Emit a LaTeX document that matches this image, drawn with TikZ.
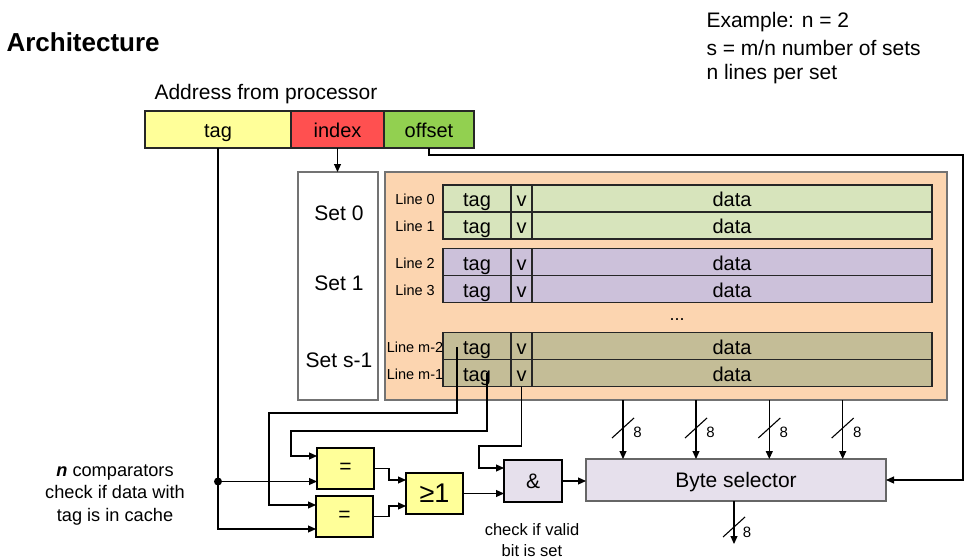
\documentclass[tikz,border=0pt]{standalone}
\usepackage{fontspec}
\setmainfont{Liberation Sans}
\usetikzlibrary{calc,arrows.meta}
\definecolor{ylw}{HTML}{FFFF99}
\definecolor{idxred}{HTML}{FF5050}
\definecolor{offgrn}{HTML}{92D050}
\definecolor{orng}{HTML}{FCD5B0}
\definecolor{grn}{HTML}{D7E4BC}
\definecolor{pur}{HTML}{CCC1DA}
\definecolor{kha}{HTML}{C4BD97}
\definecolor{lav}{HTML}{E6E0EC}
\newcommand\fsz[2]{\fontsize{#1}{#2}\selectfont}
\begin{document}
\begin{tikzpicture}[x=1pt,y=-1pt,
  >={Triangle[length=8pt,width=7pt]},
  box/.style={draw=black!85, line width=1.1pt, inner sep=0pt, outer sep=0pt, anchor=north west},
  cell/.style={box, font=\fsz{20}{24}, text height=16pt, text depth=0pt},
  gate/.style={draw=black, line width=1.8pt, inner sep=0pt, outer sep=0pt, anchor=north west, minimum width=57pt, minimum height=41pt},
  conn/.style={line width=1.1pt, black},
  lbl/.style={font=\fsz{14.5}{17}},
  eight/.style={font=\fsz{15}{18}}]
\useasboundingbox (0,0) rectangle (971,559);

% titles
\node[anchor=west, font=\fsz{26}{30}\bfseries] (title) at (3,42) {Architecture};
\node[anchor=west, font=\fsz{21}{25}] (addrlbl) at (151,94) {Address from processor};
\node[anchor=west, font=\fsz{21}{25}] (ex1) at (703,22) {Example: n = 2};
\node[anchor=west, font=\fsz{21}{25}] (ex2) at (703,48) {s = m/n number of sets};
\node[anchor=west, font=\fsz{21}{25}] (ex3) at (703,74) {n lines per set};

% address
\node[cell, text height=17pt, fill=ylw, minimum width=146pt, minimum height=37pt] (addrTag) at (145,111) {tag};
\node[cell, text height=17pt, fill=idxred, minimum width=93pt, minimum height=37pt] (addrIdx) at (291,111) {index};
\node[cell, text height=17pt, fill=offgrn, minimum width=90pt, minimum height=37pt] (addrOff) at (384,111) {offset};

% set box and cache
\node[box, draw=black!55, line width=1.2pt, minimum width=80pt, minimum height=228pt] (setbox) at (298,172) {};
\node[font=\fsz{21}{25}] (set0) at (339,213) {Set 0};
\node[font=\fsz{21}{25}] (set1) at (339,283) {Set 1};
\node[font=\fsz{21}{25}] (set2) at (339,360) {Set s-1};
\node[box, draw=black!55, line width=1.5pt, fill=orng, minimum width=562pt, minimum height=228pt] (cache) at (385,172) {};

\foreach \n/\y/\c/\lab in {0/185/grn/Line 0, 1/212/grn/Line 1, 2/248.5/pur/Line 2, 3/275.5/pur/Line 3, 4/332.5/kha/Line m-2, 5/359.5/kha/Line m-1}{
  \node[cell, fill=\c, minimum width=68pt, minimum height=27pt] (t\n) at (443,\y) {tag};
  \node[cell, fill=\c, minimum width=21pt, minimum height=27pt] (v\n) at (511,\y) {v};
  \node[cell, fill=\c, minimum width=400pt, minimum height=27pt] (d\n) at (532,\y) {data};
  \node[lbl] (l\n) at (415,\y+14.5) {\lab};
}
\node[font=\fsz{18}{20}] (dots) at (677,320) {...};

% gates
\node[gate, fill=ylw, font=\fsz{21}{25}] (eq1) at (317,448) {=};
\node[gate, fill=ylw, font=\fsz{21}{25}] (eq2) at (316,496) {=};
\node[gate, fill=ylw, font=\fsz{27}{30}] (or1) at (406,473) {≥1};
\node[gate, fill=lav, font=\fsz{21}{25}, minimum width=58pt, minimum height=42pt] (and) at (504,460) {\&};
\node[box, draw=black!60, line width=1.3pt, fill=lav, font=\fsz{21}{25}, text height=15pt, text depth=0pt, minimum width=300pt, minimum height=42pt] (bytesel) at (586,459) {Byte selector};

% notes
\node[align=center, font=\fsz{18.2}{22.5}] (note1) at (115,494.5) {\textbf{\textit{n}} comparators\\check if data with\\tag is in cache};
\node[align=center, font=\fsz{16.5}{21}] (note2) at (532,540.5) {check if valid\\bit is set};

% connectors
\draw[conn,->] (addrIdx.south) -- (addrIdx.south |- setbox.north);
\coordinate (offR) at (963,155);
\draw[conn,->] (addrOff.south) |- (offR) |- (bytesel.east);

\coordinate (eq1a) at ($(eq1.west)+(0,-12.5)$);
\coordinate (eq1b) at ($(eq1.west)+(0,13)$);
\coordinate (eq2a) at ($(eq2.west)+(0,-11.5)$);
\coordinate (eq2b) at ($(eq2.west)+(0,12.5)$);
\draw[conn,->] (addrTag.south) |- (eq2b);
\coordinate (dotc) at (addrTag.south |- eq1b);
\draw[conn,->] (dotc) -- (eq1b);
\fill (dotc) circle (4pt);

\coordinate (tm2) at ($(t4.west)+(14,1)$);
\coordinate (b1) at (269,413);
\draw[conn,->] (tm2) |- (b1) |- (eq2a);
\coordinate (tm1) at ($(t5.west)+(44,0)$);
\coordinate (b2) at (291,431);
\draw[conn,->] (tm1) |- (b2) |- (eq1a);
\coordinate (anda) at ($(and.west)+(0,-13)$);
\coordinate (andb) at ($(and.west)+(0,12.5)$);
\coordinate (b3) at (479,446);
\draw[conn,->] (v5.south) |- (b3) |- (anda);

\coordinate (ora) at ($(or1.west)+(0,-13.5)$);
\coordinate (orb) at ($(or1.west)+(0,12.5)$);
\draw[conn,->] (eq1.east) -| ($(ora)+(-17,0)$) -- (ora);
\draw[conn,->] (eq2.east) -| ($(orb)+(-17,0)$) -- (orb);
\draw[conn,->] (or1.east) -- (andb);
\draw[conn,->] (and.east) -- (and.east -| bytesel.west);

\foreach \i/\x in {1/623,2/696,3/769.3,4/842.7}{
  \coordinate (s\i) at (\x,400);
  \draw[conn,->] (s\i) -- (s\i |- bytesel.north);
  \draw[conn] ($(s\i)+(-11,38)$) -- ++(22,-20);
  \node[eight] (e\i) at ($(s\i)+(14.5,32)$) {8};
}
\coordinate (outE) at ($(bytesel.south)+(-2,43)$);
\draw[conn,->] ($(bytesel.south)+(-2,0)$) -- (outE);
\draw[conn] ($(bytesel.south)+(-13,36)$) -- ++(22,-20);
\node[eight] (eo) at ($(bytesel.south)+(11,31)$) {8};
\end{tikzpicture}
\end{document}
